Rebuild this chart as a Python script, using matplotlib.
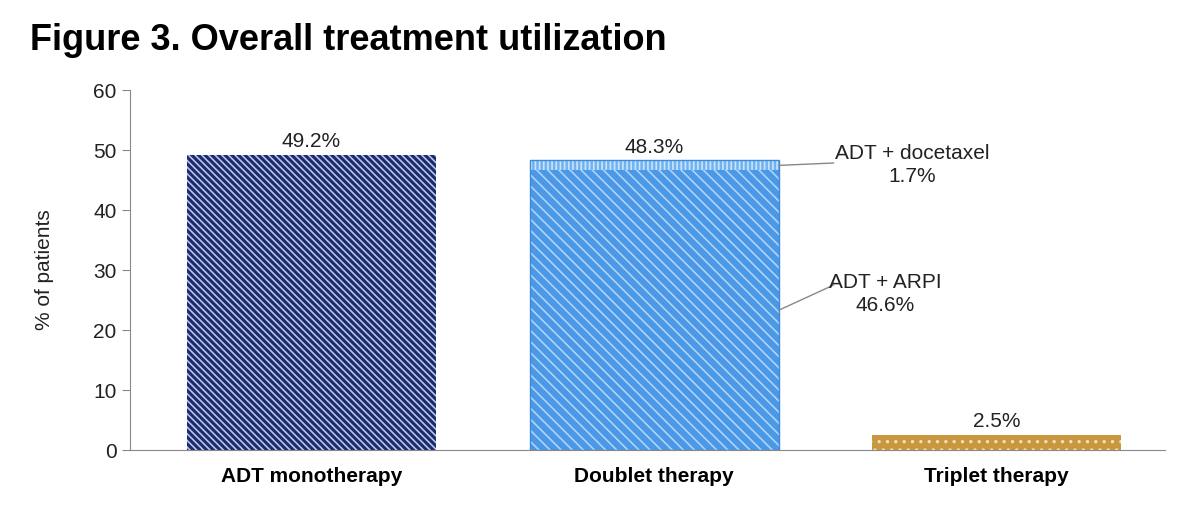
import matplotlib.pyplot as plt
import matplotlib as mpl

categories = ["ADT monotherapy", "Doublet therapy", "Triplet therapy"]
totals = [49.2, 48.3, 2.5]
arpi = 46.6
docetaxel = 1.7

plt.rcParams['font.family'] = ['Liberation Sans', 'DejaVu Sans']
fig = plt.figure(figsize=(12, 5.12), dpi=100)
ax = fig.add_axes([0.108, 0.121, 0.8625, 0.703])
x = [0, 1, 2]
w = 0.727

mpl.rcParams['hatch.linewidth'] = 1.2
ax.bar(x[0], totals[0], w, color='#1b2a6b', edgecolor='#1b2a6b', linewidth=0)
ax.bar(x[0], totals[0], w, color='none', edgecolor='#b8c4ee', hatch='\\\\\\\\\\', linewidth=0)
ax.bar(x[1], arpi, w, color='#4a98e6', edgecolor='#aed4fa', hatch='\\\\\\', linewidth=0)
ax.bar(x[1], docetaxel, w, bottom=arpi, color='#6fb3f2', edgecolor='#c9e4fc', hatch='||||', linewidth=0)
ax.bar(x[1], totals[1], w, color='none', edgecolor='#3f8ad6', linewidth=1)
ax.bar(x[2], totals[2], w, color='#c9973f', edgecolor='#f3e0b8', hatch='..', linewidth=0)

for xi, t in zip(x, totals):
    ax.text(xi, t + 0.6, f"{t}%", ha='center', va='bottom', fontsize=15, color='#222222')

right = x[1] + w / 2
ax.plot([right, right + 0.16], [arpi + docetaxel / 2, arpi + docetaxel / 2 + 0.4], color='#888888', lw=1)
ax.text(right + 0.39, 47.5, "ADT + docetaxel\n1.7%", ha='center', va='center', fontsize=15, color='#222222', linespacing=1.3)
ax.plot([right, right + 0.16], [23.3, 27.5], color='#888888', lw=1)
ax.text(right + 0.31, 26.0, "ADT + ARPI\n46.6%", ha='center', va='center', fontsize=15, color='#222222', linespacing=1.3)

ax.set_xlim(-0.531, 2.49)
ax.set_ylim(0, 60)
ax.set_yticks(range(0, 61, 10))
ax.set_xticks(x)
ax.set_xticklabels(categories, fontsize=15, fontweight='bold')
ax.tick_params(axis='y', labelsize=15, colors='#222222', length=6, color='#888888')
ax.tick_params(axis='x', length=0, pad=12)
ax.set_ylabel("% of patients", fontsize=15, color='#222222', labelpad=28)
for s in ['top', 'right']:
    ax.spines[s].set_visible(False)
ax.spines['left'].set_color('#888888')
ax.spines['bottom'].set_color('#888888')

fig.text(0.025, 0.92, "Figure 3. Overall treatment utilization", fontsize=26, fontweight='bold', ha='left', va='center')
fig.savefig("out.png")
